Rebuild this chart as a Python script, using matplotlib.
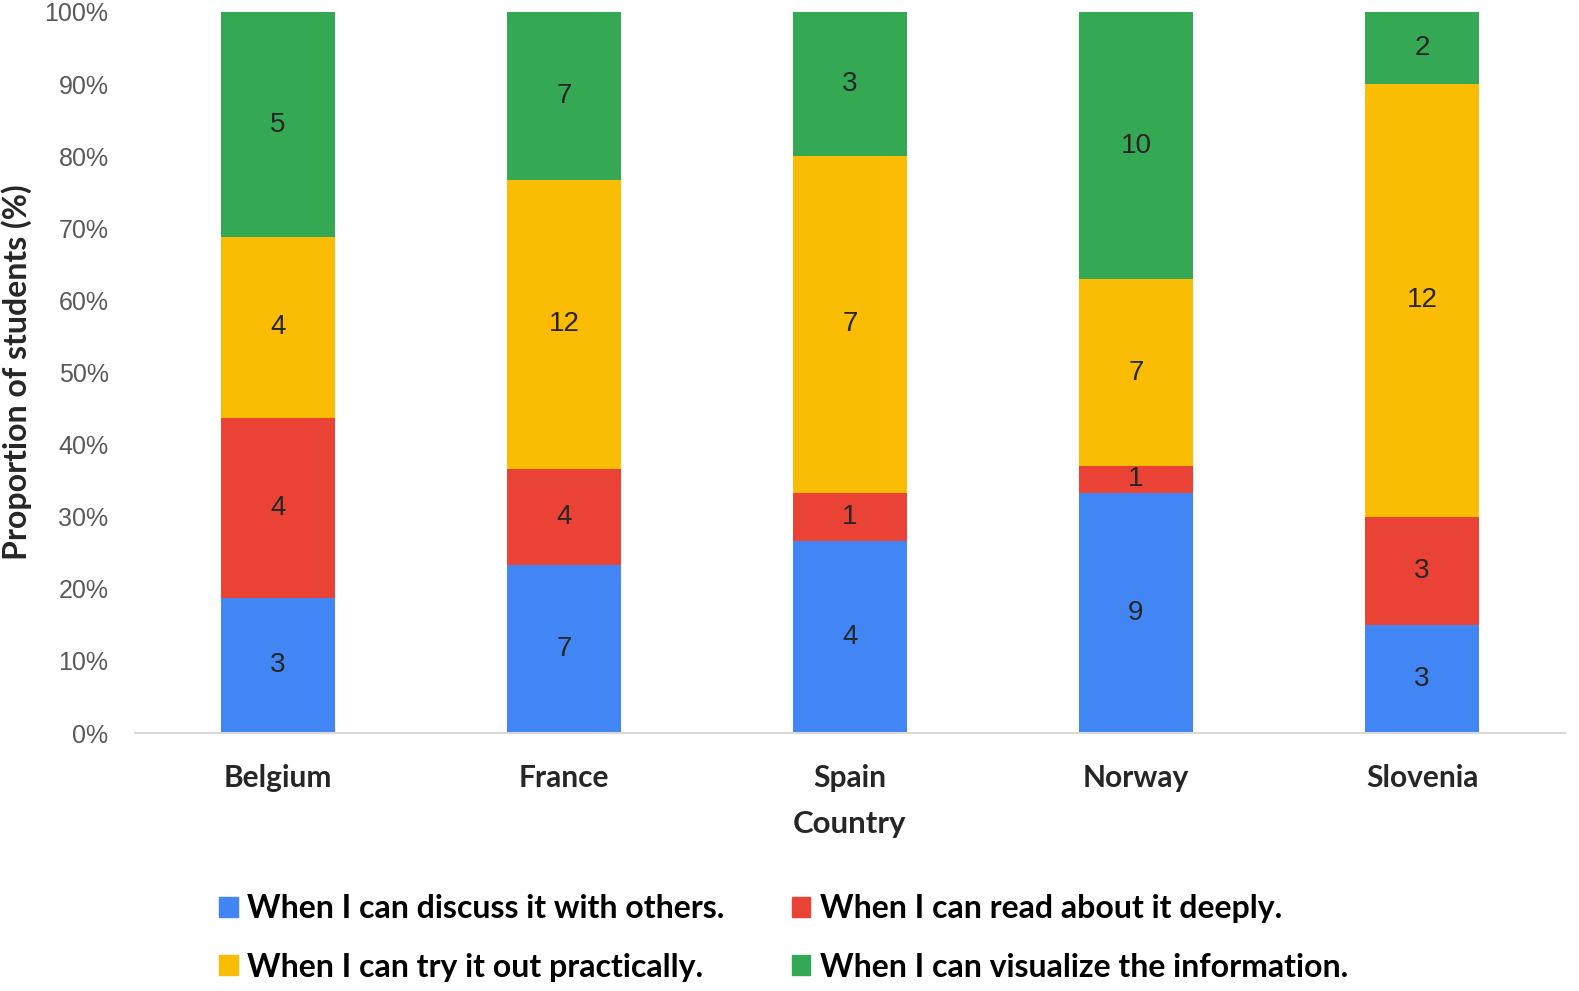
import numpy as np
import matplotlib.pyplot as plt
from matplotlib.patches import Patch
from matplotlib.ticker import PercentFormatter

countries = ["Belgium", "France", "Spain", "Norway", "Slovenia"]
series = [
    "When I can discuss it with others.",
    "When I can read about it deeply.",
    "When I can try it out practically.",
    "When I can visualize the information.",
]
discuss = [3, 7, 4, 9, 3]
read = [4, 4, 1, 1, 3]
try_out = [4, 12, 7, 7, 12]
visualize = [5, 7, 3, 10, 2]
colors = ["#4285F4", "#EA4335", "#FBBC04", "#34A853"]

counts = np.array([discuss, read, try_out, visualize], dtype=float)
shares = counts / counts.sum(axis=0) * 100

bold_font = ["Lato", "DejaVu Sans"]
num_font = ["Liberation Sans", "DejaVu Sans"]

fig = plt.figure(figsize=(15.79, 9.91), dpi=100)
ax = fig.add_axes([0.0855, 0.2603, 0.9056, 0.7276])

x = np.arange(len(countries))
bottom = np.zeros(len(countries))
for i in range(len(series)):
    bars = ax.bar(x, shares[i], 0.4, bottom=bottom, color=colors[i])
    for j, b in enumerate(bars):
        ax.text(b.get_x() + b.get_width() / 2, bottom[j] + shares[i][j] / 2,
                str(int(counts[i][j])), ha="center", va="center",
                fontsize=20, color="#262626", family=num_font)
    bottom += shares[i]

ax.set_xlim(-0.5, len(countries) - 0.5)
ax.set_ylim(0, 100)
ax.set_yticks(np.arange(0, 101, 10))
ax.yaxis.set_major_formatter(PercentFormatter(decimals=0))
ax.set_xticks(x)
ax.set_xticklabels(countries, fontsize=21.5, fontweight="bold", family=bold_font, color="#262626")
for lab in ax.get_yticklabels():
    lab.set_fontsize(18)
    lab.set_family(num_font)
    lab.set_color("#595959")
ax.tick_params(axis="y", length=0, pad=19)
ax.tick_params(axis="x", length=0, pad=22)

for s in ["top", "right", "left"]:
    ax.spines[s].set_visible(False)
ax.spines["bottom"].set_color("#D9D9D9")
ax.spines["bottom"].set_linewidth(1.5)

ax.set_xlabel("Country", fontsize=22.5, fontweight="bold", family=bold_font, color="#262626", labelpad=13)
ax.set_ylabel("Proportion of students (%)", fontsize=23, fontweight="bold", family=bold_font,
              color="#262626", labelpad=9)

handles = [Patch(color=c) for c in colors]
order = [0, 2, 1, 3]
fig.legend([handles[k] for k in order], [series[k] for k in order],
           loc="upper left", bbox_to_anchor=(0.1387, 0.098), ncol=2, frameon=False,
           prop={"family": bold_font, "weight": "bold", "size": 23},
           handlelength=0.58, handleheight=0.58, handletextpad=0.3,
           columnspacing=2.1, labelspacing=0.93, borderpad=0, borderaxespad=0)

fig.savefig("out.png", dpi=100)
